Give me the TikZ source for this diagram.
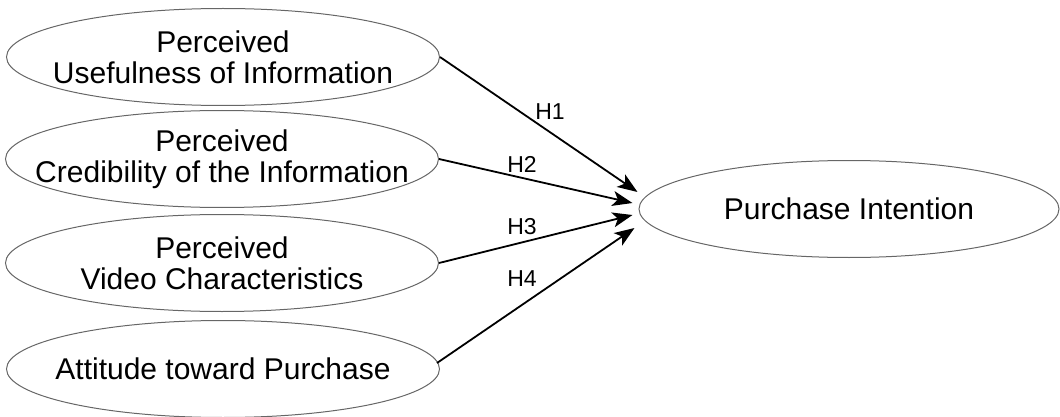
\documentclass[tikz,border=0pt]{standalone}
\usepackage{fontspec}
\setmainfont{Liberation Sans}
\usetikzlibrary{shapes.geometric,arrows.meta,calc}
\begin{document}
\begin{tikzpicture}[x=1pt,y=-1pt,
  construct/.style={ellipse,draw=black!60,line width=1pt,inner xsep=-80pt,inner ysep=0pt,
    minimum width=433pt,minimum height=97pt,align=center,
    font=\fontsize{30}{31}\selectfont},
  hyp/.style={font=\fontsize{23}{25}\selectfont,inner sep=0pt},
  link/.style={draw=black,line width=1.8pt,-{Stealth[length=20pt,width=15pt,inset=5pt]}}]
\useasboundingbox (0,0) rectangle (1060,417);
\node[construct] (e1) at (223,57) {Perceived\\Usefulness of Information};
\node[construct] (e2) at (222,159) {Perceived\\Credibility of the Information};
\node[construct] (e3) at (222,263) {Perceived\\Video Characteristics};
\node[construct] (e4) at (223,369) {Attitude toward Purchase};
\node[construct,minimum width=420pt] (pi) at (849,209) {Purchase Intention};
\coordinate (t1) at ($(pi.west)+(-1,-17)$);
\coordinate (t2) at ($(pi.west)+(-6,-6)$);
\coordinate (t3) at ($(pi.west)+(-6,6)$);
\coordinate (t4) at ($(pi.west)+(-4,19)$);
\draw[link] (e1.east) -- (t1);
\draw[link] (e2.east) -- (t2);
\draw[link] (e3.east) -- (t3);
\draw[link] ($(e4.east)+(-3,-6)$) -- (t4);
\node[hyp] (h1) at (550,112) {H1};
\node[hyp] (h2) at (522,164) {H2};
\node[hyp] (h3) at (522,227) {H3};
\node[hyp] (h4) at (522,279) {H4};
\end{tikzpicture}
\end{document}
